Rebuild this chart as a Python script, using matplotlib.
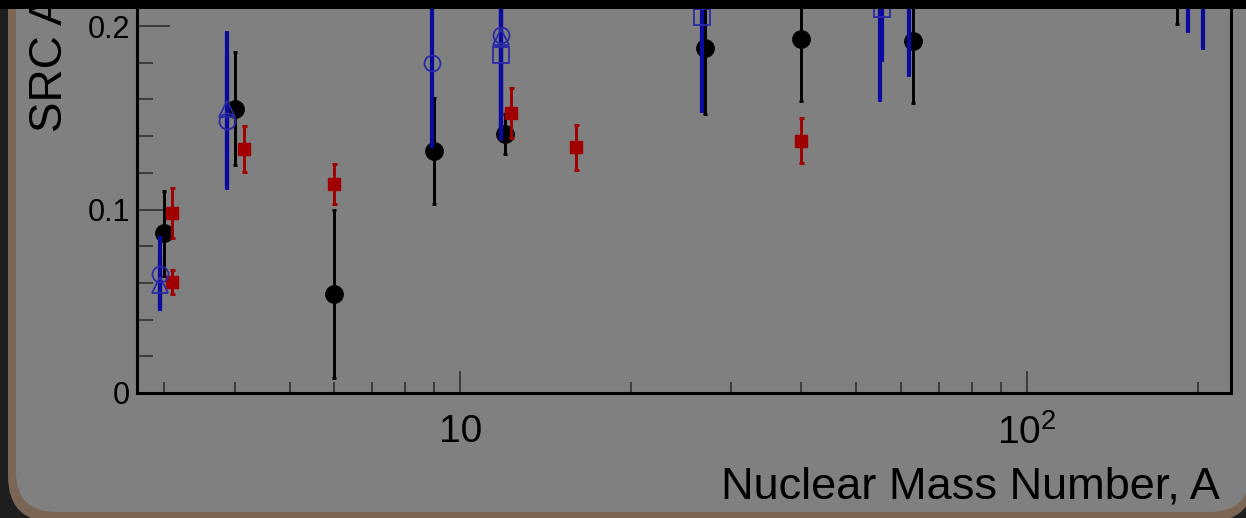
import numpy as np
import matplotlib
matplotlib.use('Agg')
import matplotlib.pyplot as plt
from matplotlib.patches import FancyBboxPatch, Rectangle
from matplotlib.transforms import IdentityTransform
from matplotlib.ticker import FixedLocator, FixedFormatter, MultipleLocator, LogLocator, NullFormatter

plt.rcParams['font.family'] = ['Liberation Sans', 'DejaVu Sans']
plt.rcParams['mathtext.fontset'] = 'custom'
plt.rcParams['mathtext.rm'] = 'Liberation Sans'
plt.rcParams['mathtext.it'] = 'Liberation Sans:italic'

# data
black_A   = [3, 4, 6, 9, 12, 27, 40, 63, 184]
black_y   = [0.087, 0.155, 0.054, 0.132, 0.141, 0.188, 0.193, 0.192, 0.236]
black_err = [0.023, 0.031, 0.046, 0.029, 0.011, 0.036, 0.034, 0.034, 0.035]

red_A   = [3.1, 3.1, 4.15, 6, 12.3, 16, 40]
red_y   = [0.098, 0.0605, 0.133, 0.114, 0.1525, 0.134, 0.1375]
red_err = [0.0135, 0.0068, 0.0125, 0.0108, 0.0135, 0.0123, 0.0123]

blue_circ_A   = [2.95, 3.88, 8.9, 11.8, 55, 62, 204]
blue_circ_y   = [0.065, 0.148, 0.180, 0.195, 0.222, 0.230, 0.240]
blue_circ_err = [0.020, 0.037, 0.046, 0.052, 0.063, 0.057, 0.0525]

blue_tri_A   = [2.95, 3.88, 11.8]
blue_tri_y   = [0.059, 0.155, 0.194]
blue_tri_err = [0.014, 0.042, 0.050]

blue_sq_A   = [11.8, 26.7, 55.5, 192]
blue_sq_y   = [0.184, 0.205, 0.209, 0.240]
blue_sq_err = [0.046, 0.052, 0.028, 0.043]

W, H = 1246, 518
fig = plt.figure(figsize=(W/100, H/100), dpi=100)
fig.patch.set_facecolor('#1e1e1e')

# slide panel behind the plot
px = IdentityTransform()
fig.add_artist(FancyBboxPatch((8, -4), 1246, 700, boxstyle='round,pad=0,rounding_size=46',
                              fc='#7b6554', ec='none', transform=px, zorder=-5))
fig.add_artist(FancyBboxPatch((16, 6), 1234, 700, boxstyle='round,pad=0,rounding_size=40',
                              fc='#808080', ec='none', transform=px, zorder=-4))
fig.add_artist(Rectangle((0, H-8.5), W, 10, fc='black', ec='none', transform=px, zorder=10))

ax = fig.add_axes([137/W, 125/H, (1231-137)/W, 393/H])
ax.set_facecolor('none')
ax.set_xscale('log')
ax.set_xlim(2.69, 229)
ax.set_ylim(0, 393/1835)

ax.errorbar(black_A, black_y, yerr=black_err, fmt='o', color='black', ms=12.5,
            elinewidth=2.1, capsize=1.6, capthick=2.1, zorder=3)
ax.errorbar(red_A, red_y, yerr=red_err, fmt='s', color='#a00000', ms=8.5,
            elinewidth=2.1, capsize=1.8, capthick=2.1, zorder=4)
blue = '#0a0aa0'
for A, y, e, m, s in [(blue_circ_A, blue_circ_y, blue_circ_err, 'o', 11.5),
                      (blue_tri_A, blue_tri_y, blue_tri_err, '^', 12),
                      (blue_sq_A, blue_sq_y, blue_sq_err, 's', 12)]:
    ax.errorbar(A, y, yerr=e, fmt=m, color=blue, mfc='none', mec='#2a2aa8', mew=1.3, ms=s,
                elinewidth=3.0, capsize=1.4, capthick=3.0, zorder=5)

for sp in ['left', 'bottom', 'right']:
    ax.spines[sp].set_linewidth(2.2)
    ax.spines[sp].set_color('black')
ax.spines['top'].set_visible(False)

ax.yaxis.set_major_locator(FixedLocator([0, 0.1, 0.2]))
ax.yaxis.set_major_formatter(FixedFormatter(['0', '0.1', '0.2']))
ax.yaxis.set_minor_locator(MultipleLocator(0.02))
ax.xaxis.set_major_locator(FixedLocator([10, 100]))
ax.xaxis.set_major_formatter(FixedFormatter(['10', '$10^2$']))
ax.xaxis.set_minor_locator(LogLocator(base=10, subs=np.arange(2, 10)))
ax.xaxis.set_minor_formatter(NullFormatter())

ax.tick_params(axis='y', which='major', direction='in', length=23.8, width=1.1, color='#2a2a2a',
               labelsize=22, pad=5)
ax.tick_params(axis='y', which='minor', direction='in', length=11.5, width=1.1, color='#2a2a2a')
ax.tick_params(axis='x', which='major', direction='in', length=15.8, width=1.1, color='#2a2a2a',
               labelsize=28, pad=15)
ax.tick_params(axis='x', which='minor', direction='in', length=7.9, width=1.1, color='#2a2a2a')

fig.text(1220, H-499, 'Nuclear Mass Number, A', transform=px, ha='right', va='baseline',
         fontsize=32.5, color='black')
fig.text(50, H-132, 'SRC Abundance', transform=px, rotation=90, ha='center', va='bottom',
         fontsize=33, color='black')

fig.savefig('out.png', dpi=100, facecolor=fig.get_facecolor())
